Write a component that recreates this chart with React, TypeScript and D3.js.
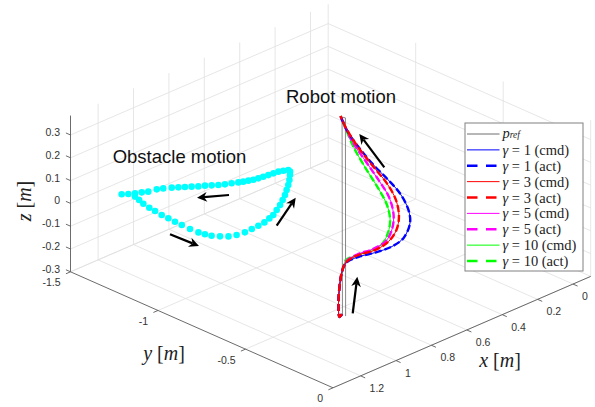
import React from "react";
import * as d3 from "d3";

const W = 595;
const H = 407;

// axis limits (axis tight in the original)
const xLim = [-0.1, 1.356];
const yLim = [-1.5, 0];
const zLim = [-0.3, 0.385];

const xTicks = [0, 0.2, 0.4, 0.6, 0.8, 1, 1.2];
const yTicks = [-1.5, -1, -0.5, 0];
const zTicks = [-0.3, -0.2, -0.1, 0, 0.1, 0.2, 0.3];

// obstacle centre samples (m), moving in a plane at z = 0
const obstacleX = [
  0.518, 0.537, 0.557, 0.582, 0.608, 0.633, 0.658, 0.681, 0.701, 0.722,
  0.741, 0.766, 0.792, 0.815, 0.836, 0.857, 0.881, 0.902, 0.923, 0.944,
  0.965, 0.994, 1.019, 1.058, 1.081, 1.107, 1.13, 1.151, 1.128, 1.138,
  1.15, 1.159, 1.164, 1.171, 1.173, 1.176, 1.178, 1.18, 1.178, 1.172,
  1.162, 1.142, 1.118, 1.086, 1.045, 1.004, 0.964, 0.925, 0.885, 0.852,
  0.81, 0.768, 0.728, 0.689, 0.652, 0.615, 0.58, 0.546, 0.524,
];
const obstacleY = [
  -1.103, -1.112, -1.12, -1.123, -1.126, -1.13, -1.133, -1.138, -1.146, -1.154,
  -1.163, -1.176, -1.188, -1.202, -1.219, -1.236, -1.25, -1.267, -1.284, -1.3,
  -1.317, -1.336, -1.348, -1.357, -1.371, -1.383, -1.398, -1.415, -1.362, -1.328,
  -1.292, -1.249, -1.211, -1.166, -1.126, -1.085, -1.044, -0.995, -0.949, -0.918,
  -0.89, -0.862, -0.838, -0.824, -0.818, -0.82, -0.823, -0.828, -0.84, -0.851,
  -0.874, -0.897, -0.923, -0.949, -0.977, -1.005, -1.034, -1.065, -1.087,
];
const obstacleZ = 0;

// reference path p_ref [x, y, z]
const pRef = [
  [0.914, -0.393, -0.267],
  [0.582, -0.731, 0.38],
  [0.574, -0.72, 0.377],
  [0.905, -0.384, -0.267],
];

// robot end-effector paths [x, y, z]
const gamma1Cmd = [
  [0.912, -0.398, -0.261], [0.924, -0.4, -0.27], [0.907, -0.423, -0.231],
  [0.876, -0.449, -0.176], [0.842, -0.469, -0.124], [0.815, -0.473, -0.095],
  [0.771, -0.449, -0.075], [0.715, -0.409, -0.061], [0.656, -0.371, -0.041],
  [0.609, -0.353, -0.014], [0.565, -0.36, 0.035], [0.548, -0.386, 0.078],
  [0.544, -0.438, 0.131], [0.557, -0.5, 0.18], [0.574, -0.568, 0.229],
  [0.585, -0.634, 0.282], [0.591, -0.688, 0.331], [0.585, -0.737, 0.383],
];
const gamma1Act = gamma1Cmd;

const gamma3Cmd = [
  [0.912, -0.398, -0.261], [0.924, -0.4, -0.27], [0.907, -0.423, -0.231],
  [0.876, -0.449, -0.176], [0.842, -0.469, -0.124], [0.813, -0.474, -0.092],
  [0.767, -0.452, -0.069], [0.711, -0.413, -0.053], [0.658, -0.389, -0.025],
  [0.616, -0.386, 0.013], [0.586, -0.402, 0.056], [0.567, -0.438, 0.11],
  [0.565, -0.492, 0.164], [0.577, -0.565, 0.224], [0.587, -0.641, 0.287],
  [0.589, -0.701, 0.344], [0.585, -0.737, 0.383],
];
const gamma3Act = gamma3Cmd;

const gamma5Cmd = [
  [0.912, -0.398, -0.261], [0.924, -0.4, -0.27], [0.907, -0.423, -0.231],
  [0.876, -0.449, -0.176], [0.842, -0.469, -0.124], [0.813, -0.475, -0.09],
  [0.769, -0.456, -0.067], [0.715, -0.42, -0.049], [0.664, -0.397, -0.023],
  [0.624, -0.401, 0.019], [0.597, -0.422, 0.065], [0.582, -0.463, 0.12],
  [0.583, -0.519, 0.173], [0.589, -0.59, 0.237], [0.594, -0.662, 0.302],
  [0.587, -0.726, 0.37], [0.585, -0.737, 0.383],
];
const gamma5Act = gamma5Cmd;

const gamma10Cmd = [
  [0.912, -0.398, -0.261], [0.924, -0.4, -0.27], [0.907, -0.423, -0.231],
  [0.876, -0.449, -0.176], [0.842, -0.469, -0.124], [0.81, -0.478, -0.085],
  [0.788, -0.466, -0.075], [0.733, -0.43, -0.057], [0.683, -0.404, -0.035],
  [0.645, -0.405, 0.003], [0.617, -0.421, 0.045], [0.601, -0.455, 0.094],
  [0.598, -0.507, 0.147], [0.6, -0.582, 0.217], [0.599, -0.648, 0.282],
  [0.59, -0.706, 0.347], [0.585, -0.737, 0.383],
];
const gamma10Act = gamma10Cmd;

const gammas = ["1", "3", "5", "10"];
const gammaColors = ["#0000ff", "#ff0000", "#ff00ff", "#00ff00"];
const cmdPaths = [gamma1Cmd, gamma3Cmd, gamma5Cmd, gamma10Cmd];
const actPaths = [gamma1Act, gamma3Act, gamma5Act, gamma10Act];
// order in which the paths are stacked (last on top)
const drawOrder = [3, 2, 0, 1];

// annotation arrows (figure pixels): tail -> head
const arrows = [
  [229, 195, 197, 197.7],
  [170, 234.3, 199, 246],
  [276.7, 225.7, 295.7, 197.7],
  [384.3, 167.3, 359.3, 134],
  [352.7, 313.3, 357.3, 276.7],
];

// projection of the 3-D box onto the page
const ORIGIN = [328.2, 160.4]; // (xMin, yMin, zMin)
const EX = [-257.7, 111.4];
const EY = [262.5, 116];
const EZ = [0, -156.2];
const ux = d3.scaleLinear().domain(xLim).range([0, 1]);
const uy = d3.scaleLinear().domain(yLim).range([0, 1]);
const uz = d3.scaleLinear().domain(zLim).range([0, 1]);
const proj = (x: number, y: number, z: number): [number, number] => [
  ORIGIN[0] + ux(x) * EX[0] + uy(y) * EY[0] + uz(z) * EZ[0],
  ORIGIN[1] + ux(x) * EX[1] + uy(y) * EY[1] + uz(z) * EZ[1],
];
const unit = (v: number[]) => {
  const l = Math.hypot(v[0], v[1]);
  return [v[0] / l, v[1] / l];
};

const [x0, x1] = xLim;
const [y0, y1] = yLim;
const [z0, z1] = zLim;

const gridSegs: [number[], number[]][] = [];
xTicks.forEach((t) => {
  gridSegs.push([[t, y0, z0], [t, y1, z0]]);
  gridSegs.push([[t, y0, z0], [t, y0, z1]]);
});
yTicks.forEach((t) => {
  gridSegs.push([[x0, t, z0], [x1, t, z0]]);
  gridSegs.push([[x0, t, z0], [x0, t, z1]]);
});
zTicks.forEach((t) => {
  gridSegs.push([[x0, y0, t], [x1, y0, t]]);
  gridSegs.push([[x0, y0, t], [x0, y1, t]]);
});

const axisSegs: [number[], number[]][] = [
  [[x0, y1, z0], [x1, y1, z0]],
  [[x1, y0, z0], [x1, y1, z0]],
  [[x1, y0, z0], [x1, y0, z1]],
];

const fmt = (v: number) => String(v);

const curve3d = d3
  .line<number[]>()
  .x((d) => proj(d[0], d[1], d[2])[0])
  .y((d) => proj(d[0], d[1], d[2])[1])
  .curve(d3.curveCatmullRom.alpha(0.5));
const poly3d = d3
  .line<number[]>()
  .x((d) => proj(d[0], d[1], d[2])[0])
  .y((d) => proj(d[0], d[1], d[2])[1]);

function Arrow({ a }: { a: number[] }) {
  const [xa, ya, xb, yb] = a;
  const u = unit([xb - xa, yb - ya]);
  const n = [-u[1], u[0]];
  const L = 10;
  const hw = 4.8;
  const bx = xb - L * u[0];
  const by = yb - L * u[1];
  const nx = xb - 0.7 * L * u[0];
  const ny = yb - 0.7 * L * u[1];
  const pts = [
    [xb, yb],
    [bx + hw * n[0], by + hw * n[1]],
    [nx, ny],
    [bx - hw * n[0], by - hw * n[1]],
  ];
  return (
    <g>
      <line x1={xa} y1={ya} x2={nx} y2={ny} stroke="#000" strokeWidth={2.2} />
      <polygon points={pts.map((p) => p.join(",")).join(" ")} fill="#000" />
    </g>
  );
}

export default function App() {
  const tickLen = 5;
  const eyU = unit(EY);
  const exU = unit(EX);
  const sans = "'Liberation Sans', Arial, Helvetica, sans-serif";
  const serif = "'Liberation Serif', 'Times New Roman', serif";

  const legendRows = [
    { label: "ref", color: "#6e6e6e", dash: false, width: 1 },
    ...gammas.flatMap((g, i) => [
      { label: `${g} (cmd)`, color: gammaColors[i], dash: false, width: 1 },
      { label: `${g} (act)`, color: gammaColors[i], dash: true, width: 2.6 },
    ]),
  ];
  const legX = 465;
  const legY = 123;
  const legW = 118;
  const legH = 148;
  const rowH = 15.875;

  return (
    <svg
      width={W}
      height={H}
      style={{ position: "absolute", left: 0, top: 0, background: "#fff" }}
    >
      <rect width={W} height={H} fill="#fff" />
      {/* grid */}
      {gridSegs.map(([a, b], i) => {
        const p = proj(a[0], a[1], a[2]);
        const q = proj(b[0], b[1], b[2]);
        return (
          <line key={"g" + i} x1={p[0]} y1={p[1]} x2={q[0]} y2={q[1]} stroke="#e0e0e0" strokeWidth={0.8} />
        );
      })}
      {/* axes */}
      {axisSegs.map(([a, b], i) => {
        const p = proj(a[0], a[1], a[2]);
        const q = proj(b[0], b[1], b[2]);
        return (
          <line key={"a" + i} x1={p[0]} y1={p[1]} x2={q[0]} y2={q[1]} stroke="#5a5a5a" strokeWidth={0.9} />
        );
      })}
      {/* ticks and labels */}
      <g fontFamily={sans} fontSize={10.5} fill="#333">
        {xTicks.map((t) => {
          const p = proj(t, y1, z0);
          return (
            <g key={"xt" + t}>
              <line x1={p[0]} y1={p[1]} x2={p[0] + eyU[0] * tickLen} y2={p[1] + eyU[1] * tickLen} stroke="#5a5a5a" strokeWidth={0.9} />
              <text x={p[0] + 9} y={p[1] + 12} dominantBaseline="central">{fmt(t)}</text>
            </g>
          );
        })}
        {yTicks.map((t) => {
          const p = proj(x1, t, z0);
          return (
            <g key={"yt" + t}>
              <line x1={p[0]} y1={p[1]} x2={p[0] + exU[0] * tickLen} y2={p[1] + exU[1] * tickLen} stroke="#5a5a5a" strokeWidth={0.9} />
              <text x={p[0] - 10} y={p[1] + 10.5} textAnchor="end" dominantBaseline="central">{fmt(t)}</text>
            </g>
          );
        })}
        {zTicks.map((t) => {
          const p = proj(x1, y0, t);
          return (
            <g key={"zt" + t}>
              <line x1={p[0]} y1={p[1]} x2={p[0] - eyU[0] * tickLen} y2={p[1] - eyU[1] * tickLen} stroke="#5a5a5a" strokeWidth={0.9} />
              <text x={p[0] - 10.5} y={p[1] - 3} textAnchor="end" dominantBaseline="central">{fmt(t)}</text>
            </g>
          );
        })}
      </g>
      {/* axis titles */}
      <g fontFamily={serif} fontSize={20} fill="#222">
        <text x={500} y={367} textAnchor="middle">
          <tspan fontStyle="italic">x</tspan> [<tspan fontStyle="italic">m</tspan>]
        </text>
        <text x={164} y={360} textAnchor="middle">
          <tspan fontStyle="italic">y</tspan> [<tspan fontStyle="italic">m</tspan>]
        </text>
        <text transform="translate(31,201) rotate(-90)" textAnchor="middle">
          <tspan fontStyle="italic">z</tspan> [<tspan fontStyle="italic">m</tspan>]
        </text>
      </g>
      {/* obstacle */}
      <g fill="#00ffff">
        {obstacleX.map((x, i) => {
          const p = proj(x, obstacleY[i], obstacleZ);
          return <circle key={"o" + i} cx={p[0]} cy={p[1]} r={3.3} />;
        })}
      </g>
      {/* robot */}
      <path d={poly3d(pRef) || ""} fill="none" stroke="#555" strokeWidth={0.7} />
      {drawOrder.map((i) => (
        <g key={"r" + i}>
          <path d={curve3d(cmdPaths[i]) || ""} fill="none" stroke={gammaColors[i]} strokeWidth={1} />
          <path d={curve3d(actPaths[i]) || ""} fill="none" stroke={gammaColors[i]} strokeWidth={2.4} strokeDasharray="7,3" />
        </g>
      ))}
      {/* annotations */}
      {arrows.map((a, i) => (
        <Arrow key={"ar" + i} a={a} />
      ))}
      <g fontFamily={sans} fontSize={18.5} fill="#111">
        <text x={112.7} y={162.7}>Obstacle motion</text>
        <text x={286} y={103.3}>Robot motion</text>
      </g>
      {/* legend */}
      <rect x={legX} y={legY} width={legW} height={legH} fill="#fff" stroke="#808080" strokeWidth={1} />
      <g fontFamily={serif} fontSize={14.5} fill="#222">
        {legendRows.map((r, i) => {
          const cy = legY + 11 + i * rowH;
          return (
            <g key={"l" + i}>
              <line
                x1={467}
                x2={499.5}
                y1={cy}
                y2={cy}
                stroke={r.color}
                strokeWidth={r.width}
                strokeDasharray={r.dash ? "10.5,8.5" : undefined}
              />
              {i === 0 ? (
                <text x={502.5} y={cy - 1.5} dominantBaseline="central">
                  <tspan fontStyle="italic">p</tspan>
                  <tspan fontStyle="italic" fontSize={9.5} dy={2.5}>ref</tspan>
                </text>
              ) : (
                <text x={502.5} y={cy} dominantBaseline="central">
                  <tspan fontStyle="italic">γ</tspan> = {r.label}
                </text>
              )}
            </g>
          );
        })}
      </g>
    </svg>
  );
}
